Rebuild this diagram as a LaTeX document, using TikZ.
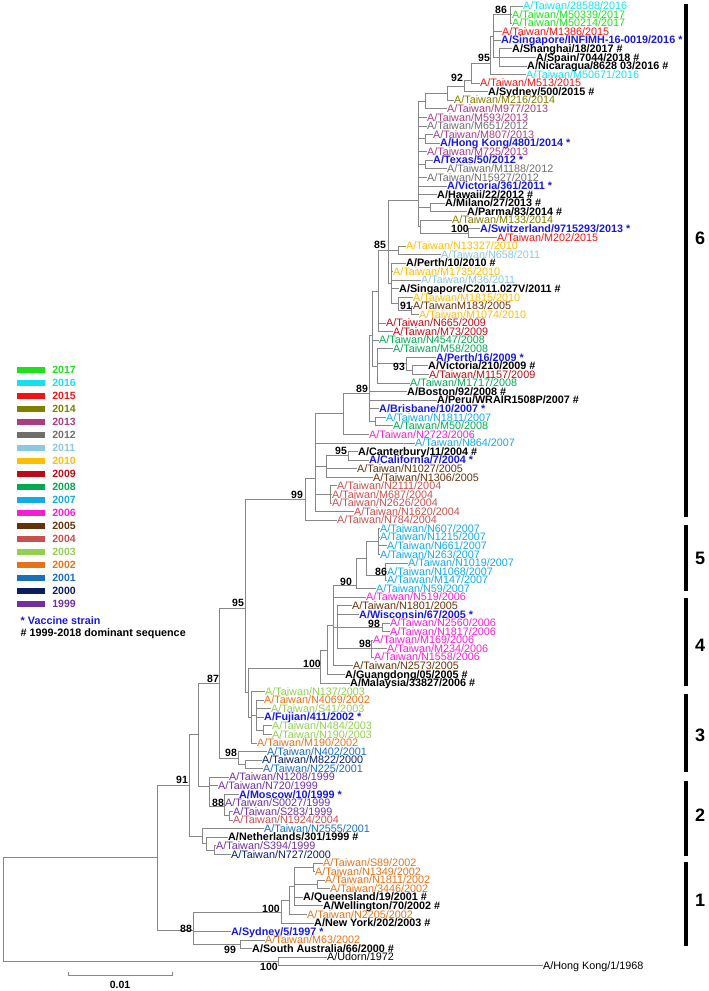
\documentclass[tikz,border=0pt]{standalone}
\usepackage{fontspec}
\setmainfont{Liberation Sans}
\usetikzlibrary{positioning}

\definecolor{c2017}{RGB}{30,225,30}
\definecolor{c2016}{RGB}{20,225,240}
\definecolor{c2015}{RGB}{240,20,20}
\definecolor{c2014}{RGB}{128,128,0}
\definecolor{c2013}{RGB}{170,60,130}
\definecolor{c2012}{RGB}{110,110,110}
\definecolor{c2011}{RGB}{140,200,225}
\definecolor{c2010}{RGB}{255,190,0}
\definecolor{c2009}{RGB}{190,10,20}
\definecolor{c2008}{RGB}{0,170,80}
\definecolor{c2007}{RGB}{20,170,230}
\definecolor{c2006}{RGB}{245,30,210}
\definecolor{c2005}{RGB}{100,50,10}
\definecolor{c2004}{RGB}{200,80,80}
\definecolor{c2003}{RGB}{146,208,80}
\definecolor{c2002}{RGB}{230,115,25}
\definecolor{c2001}{RGB}{25,110,190}
\definecolor{c2000}{RGB}{10,30,95}
\definecolor{c1999}{RGB}{112,48,160}
\definecolor{cvac}{RGB}{25,25,220}
\definecolor{branchgray}{RGB}{135,135,135}

\begin{document}
\begin{tikzpicture}[
    x=1pt, y=-1pt,
    br/.style={draw=branchgray, line width=0.9pt},
    lf/.style={anchor=west, inner xsep=0.5pt, inner ysep=0pt, text height=7.2pt, text depth=0pt, font=\fontsize{10.8}{12}\selectfont},
    vac/.style={lf, text=cvac, font=\fontsize{10.8}{12}\selectfont\bfseries},
    dom/.style={lf, font=\fontsize{10.8}{12}\selectfont\bfseries},
    bs/.style={inner sep=0pt, text height=7pt, text depth=0pt, font=\fontsize{10.5}{11}\selectfont\bfseries},
    clade/.style={inner sep=0pt, font=\fontsize{18}{20}\selectfont\bfseries},
    cbar/.style={line width=4pt},
    swatch/.style={minimum width=28pt, minimum height=6pt, inner sep=0pt},
    yr/.style={inner sep=0.5pt, font=\fontsize{10.5}{11}\selectfont\bfseries},
    note/.style={anchor=west, inner sep=0.5pt, font=\fontsize{10.8}{12}\selectfont\bfseries}
]
    \useasboundingbox (0,0) rectangle (709,991);

    % legend
    \node[swatch, fill=c2017] (sw2017) at (31,370) {};
    \node[swatch, fill=c2016] (sw2016) at (31,383) {};
    \node[swatch, fill=c2015] (sw2015) at (31,396) {};
    \node[swatch, fill=c2014] (sw2014) at (31,409) {};
    \node[swatch, fill=c2013] (sw2013) at (31,422) {};
    \node[swatch, fill=c2012] (sw2012) at (31,435) {};
    \node[swatch, fill=c2011] (sw2011) at (31,448) {};
    \node[swatch, fill=c2010] (sw2010) at (31,461) {};
    \node[swatch, fill=c2009] (sw2009) at (31,474) {};
    \node[swatch, fill=c2008] (sw2008) at (31,487) {};
    \node[swatch, fill=c2007] (sw2007) at (31,500) {};
    \node[swatch, fill=c2006] (sw2006) at (31,513) {};
    \node[swatch, fill=c2005] (sw2005) at (31,526) {};
    \node[swatch, fill=c2004] (sw2004) at (31,539) {};
    \node[swatch, fill=c2003] (sw2003) at (31,552) {};
    \node[swatch, fill=c2002] (sw2002) at (31,565) {};
    \node[swatch, fill=c2001] (sw2001) at (31,578) {};
    \node[swatch, fill=c2000] (sw2000) at (31,591) {};
    \node[swatch, fill=c1999] (sw1999) at (31,604) {};
    \node[yr, text=c2017, right=6.5pt of sw2017] (k2017) {2017};
    \node[yr, text=c2016, right=6.5pt of sw2016] (k2016) {2016};
    \node[yr, text=c2015, right=6.5pt of sw2015] (k2015) {2015};
    \node[yr, text=c2014, right=6.5pt of sw2014] (k2014) {2014};
    \node[yr, text=c2013, right=6.5pt of sw2013] (k2013) {2013};
    \node[yr, text=c2012, right=6.5pt of sw2012] (k2012) {2012};
    \node[yr, text=c2011, right=6.5pt of sw2011] (k2011) {2011};
    \node[yr, text=c2010, right=6.5pt of sw2010] (k2010) {2010};
    \node[yr, text=c2009, right=6.5pt of sw2009] (k2009) {2009};
    \node[yr, text=c2008, right=6.5pt of sw2008] (k2008) {2008};
    \node[yr, text=c2007, right=6.5pt of sw2007] (k2007) {2007};
    \node[yr, text=c2006, right=6.5pt of sw2006] (k2006) {2006};
    \node[yr, text=c2005, right=6.5pt of sw2005] (k2005) {2005};
    \node[yr, text=c2004, right=6.5pt of sw2004] (k2004) {2004};
    \node[yr, text=c2003, right=6.5pt of sw2003] (k2003) {2003};
    \node[yr, text=c2002, right=6.5pt of sw2002] (k2002) {2002};
    \node[yr, text=c2001, right=6.5pt of sw2001] (k2001) {2001};
    \node[yr, text=c2000, right=6.5pt of sw2000] (k2000) {2000};
    \node[yr, text=c1999, right=6.5pt of sw1999] (k1999) {1999};
    \node[note, text=cvac] (vacnote) at (20,621) {* Vaccine strain};
    \node[note] (domnote) at (20,634) {\# 1999-2018 dominant sequence};

    % strains, clade 6
    \node[lf, text=c2016] (tw28588) at (522.5,6.0) {A/Taiwan/28588/2016};
    \node[lf, text=c2017] (m50339) at (511.5,14.6) {A/Taiwan/M50339/2017};
    \node[lf, text=c2017] (m50214) at (511.5,23.1) {A/Taiwan/M50214/2017};
    \node[lf, text=c2015] (m1386) at (501.5,31.7) {A/Taiwan/M1386/2015};
    \node[vac] (singapore) at (500.5,40.3) {A/Singapore/INFIMH-16-0019/2016 *};
    \node[dom] (shanghai) at (511.5,48.9) {A/Shanghai/18/2017 \#};
    \node[dom] (spain) at (535.5,57.4) {A/Spain/7044/2018 \#};
    \node[dom] (nicaragua) at (526.5,66.0) {A/Nicaragua/8628 03/2016 \#};
    \node[lf, text=c2016] (m50671) at (525.5,74.6) {A/Taiwan/M50671/2016};
    \node[lf, text=c2015] (m513) at (479.5,83.1) {A/Taiwan/M513/2015};
    \node[dom] (sydney500) at (487.5,91.7) {A/Sydney/500/2015 \#};
    \node[lf, text=c2014] (m216) at (453.5,100.3) {A/Taiwan/M216/2014};
    \node[lf, text=c2013] (m977) at (446.5,108.8) {A/Taiwan/M977/2013};
    \node[lf, text=c2013] (m593) at (426.5,117.4) {A/Taiwan/M593/2013};
    \node[lf, text=c2012] (m651) at (426.5,126.0) {A/Taiwan/M651/2012};
    \node[lf, text=c2013] (m807) at (432.5,134.6) {A/Taiwan/M807/2013};
    \node[vac] (hongkong4801) at (439.5,143.1) {A/Hong Kong/4801/2014 *};
    \node[lf, text=c2013] (m725) at (426.5,151.7) {A/Taiwan/M725/2013};
    \node[vac] (texas) at (432.5,160.3) {A/Texas/50/2012 *};
    \node[lf, text=c2012] (m1188) at (446.5,168.8) {A/Taiwan/M1188/2012};
    \node[lf, text=c2012] (n15927) at (426.5,177.4) {A/Taiwan/N15927/2012};
    \node[vac] (victoria361) at (446.5,186.0) {A/Victoria/361/2011 *};
    \node[dom] (hawaii) at (436.5,194.5) {A/Hawaii/22/2012 \#};
    \node[dom] (milano) at (444.5,203.1) {A/Milano/27/2013 \#};
    \node[dom] (parma) at (466.5,211.7) {A/Parma/83/2014 \#};
    \node[lf, text=c2014] (m133) at (451.5,220.3) {A/Taiwan/M133/2014};
    \node[vac] (switzerland) at (479.5,228.8) {A/Switzerland/9715293/2013 *};
    \node[lf, text=c2015] (m202) at (496.5,237.4) {A/Taiwan/M202/2015};
    \node[lf, text=c2010] (n13327) at (405.5,246.0) {A/Taiwan/N13327/2010};
    \node[lf, text=c2011] (n658) at (440.5,254.5) {A/Taiwan/N658/2011};
    \node[dom] (perth10) at (405.5,263.1) {A/Perth/10/2010 \#};
    \node[lf, text=c2010] (m1735) at (392.5,271.7) {A/Taiwan/M1735/2010};
    \node[lf, text=c2011] (m36) at (420.5,280.2) {A/Taiwan/M36/2011};
    \node[dom] (singaporeC) at (398.5,288.8) {A/Singapore/C2011.027V/2011 \#};
    \node[lf, text=c2010] (m1815) at (412.5,297.4) {A/Taiwan/M1815/2010};
    \node[lf, text=c2005] (m183) at (412.5,306.0) {A/TaiwanM183/2005};
    \node[lf, text=c2010] (m1074) at (418.5,314.5) {A/Taiwan/M1074/2010};
    \node[lf, text=c2009] (n665) at (385.5,323.1) {A/Taiwan/N665/2009};
    \node[lf, text=c2009] (m73) at (392.5,331.7) {A/Taiwan/M73/2009};
    \node[lf, text=c2008] (n4547) at (378.5,340.2) {A/Taiwan/N4547/2008};
    \node[lf, text=c2008] (m58) at (392.5,348.8) {A/Taiwan/M58/2008};
    \node[vac] (perth16) at (435.5,357.4) {A/Perth/16/2009 *};
    \node[dom] (victoria210) at (427.5,365.9) {A/Victoria/210/2009 \#};
    \node[lf, text=c2009] (m1157) at (428.5,374.5) {A/Taiwan/M1157/2009};
    \node[lf, text=c2008] (m1717) at (409.5,383.1) {A/Taiwan/M1717/2008};
    \node[dom] (boston) at (406.5,391.7) {A/Boston/92/2008 \#};
    \node[dom] (peru) at (436.5,400.2) {A/Peru/WRAIR1508P/2007 \#};
    \node[vac] (brisbane) at (378.5,408.8) {A/Brisbane/10/2007 *};
    \node[lf, text=c2007] (n1811a) at (385.5,417.4) {A/Taiwan/N1811/2007};
    \node[lf, text=c2008] (m50) at (392.5,425.9) {A/Taiwan/M50/2008};
    \node[lf, text=c2006] (n2723) at (368.5,434.5) {A/Taiwan/N2723/2006};
    \node[lf, text=c2007] (n864) at (414.5,443.1) {A/Taiwan/N864/2007};
    \node[dom] (canterbury) at (357.5,451.6) {A/Canterbury/11/2004 \#};
    \node[vac] (california) at (368.5,460.2) {A/California/7/2004 *};
    \node[lf, text=c2005] (n1027) at (356.5,468.8) {A/Taiwan/N1027/2005};
    \node[lf, text=c2005] (n1306) at (372.5,477.4) {A/Taiwan/N1306/2005};
    \node[lf, text=c2004] (n2111) at (336.5,485.9) {A/Taiwan/N2111/2004};
    \node[lf, text=c2004] (m687) at (331.5,494.5) {A/Taiwan/M687/2004};
    \node[lf, text=c2004] (n2626) at (331.5,503.1) {A/Taiwan/N2626/2004};
    \node[lf, text=c2004] (n1620) at (353.5,511.6) {A/Taiwan/N1620/2004};
    \node[lf, text=c2004] (n784) at (336.5,520.2) {A/Taiwan/N784/2004};
    % clade 5
    \node[lf, text=c2007] (n607) at (379.5,528.8) {A/Taiwan/N607/2007};
    \node[lf, text=c2007] (n1215) at (379.5,537.3) {A/Taiwan/N1215/2007};
    \node[lf, text=c2007] (n661) at (386.5,545.9) {A/Taiwan/N661/2007};
    \node[lf, text=c2007] (n263) at (379.5,554.5) {A/Taiwan/N263/2007};
    \node[lf, text=c2007] (n1019) at (407.5,563.1) {A/Taiwan/N1019/2007};
    \node[lf, text=c2007] (n1068) at (386.5,571.6) {A/Taiwan/N1068/2007};
    \node[lf, text=c2007] (m147) at (386.5,580.2) {A/Taiwan/M147/2007};
    \node[lf, text=c2007] (n59) at (375.5,588.8) {A/Taiwan/N59/2007};
    % clade 4
    \node[lf, text=c2006] (n519) at (365.5,597.3) {A/Taiwan/N519/2006};
    \node[lf, text=c2005] (n1801) at (351.5,605.9) {A/Taiwan/N1801/2005};
    \node[vac] (wisconsin) at (358.5,614.5) {A/Wisconsin/67/2005 *};
    \node[lf, text=c2006] (n2560) at (389.5,623.1) {A/Taiwan/N2560/2006};
    \node[lf, text=c2006] (n1817) at (389.5,631.6) {A/Taiwan/N1817/2006};
    \node[lf, text=c2006] (m169) at (372.5,640.2) {A/Taiwan/M169/2006};
    \node[lf, text=c2006] (m234) at (386.5,648.8) {A/Taiwan/M234/2006};
    \node[lf, text=c2006] (n1558) at (373.5,657.3) {A/Taiwan/N1558/2006};
    \node[lf, text=c2005] (n2573) at (352.5,665.9) {A/Taiwan/N2573/2005};
    \node[dom] (guangdong) at (344.5,674.5) {A/Guangdong/05/2005 \#};
    \node[dom] (malaysia) at (349.5,683.0) {A/Malaysia/33827/2006 \#};
    % clade 3
    \node[lf, text=c2003] (n137) at (264.5,691.6) {A/Taiwan/N137/2003};
    \node[lf, text=c2002] (n4069) at (263.5,700.2) {A/Taiwan/N4069/2002};
    \node[lf, text=c2003] (s41) at (270.5,708.8) {A/Taiwan/S41/2003};
    \node[vac] (fujian) at (263.5,717.3) {A/Fujian/411/2002 *};
    \node[lf, text=c2003] (n484) at (271.5,725.9) {A/Taiwan/N484/2003};
    \node[lf, text=c2003] (n190) at (271.5,734.5) {A/Taiwan/N190/2003};
    \node[lf, text=c2002] (m190) at (256.5,743.0) {A/Taiwan/M190/2002};
    \node[lf, text=c2001] (n402) at (266.5,751.6) {A/Taiwan/N402/2001};
    \node[lf, text=c2000] (m822) at (261.5,760.2) {A/Taiwan/M822/2000};
    \node[lf, text=c2001] (n225) at (262.5,768.7) {A/Taiwan/N225/2001};
    % clade 2
    \node[lf, text=c1999] (n1208) at (228.5,777.3) {A/Taiwan/N1208/1999};
    \node[lf, text=c1999] (n720) at (217.5,785.9) {A/Taiwan/N720/1999};
    \node[vac] (moscow) at (238.5,794.5) {A/Moscow/10/1999 *};
    \node[lf, text=c1999] (s0027) at (224.5,803.0) {A/Taiwan/S0027/1999};
    \node[lf, text=c1999] (s283) at (232.5,811.6) {A/Taiwan/S283/1999};
    \node[lf, text=c2004] (n1924) at (232.5,820.2) {A/Taiwan/N1924/2004};
    \node[lf, text=c2001] (n2555) at (263.5,828.7) {A/Taiwan/N2555/2001};
    \node[dom] (netherlands) at (227.5,837.3) {A/Netherlands/301/1999 \#};
    \node[lf, text=c1999] (s394) at (215.5,845.9) {A/Taiwan/S394/1999};
    \node[lf, text=c2000] (n727) at (230.5,854.4) {A/Taiwan/N727/2000};
    % clade 1
    \node[lf, text=c2002] (s89) at (322.5,863.0) {A/Taiwan/S89/2002};
    \node[lf, text=c2002] (n1349) at (314.5,871.6) {A/Taiwan/N1349/2002};
    \node[lf, text=c2002] (n1811b) at (324.5,880.1) {A/Taiwan/N1811/2002};
    \node[lf, text=c2002] (tw3446) at (329.5,888.7) {A/Taiwan/3446/2002};
    \node[dom] (queensland) at (302.5,897.3) {A/Queensland/19/2001 \#};
    \node[dom] (wellington) at (322.5,905.9) {A/Wellington/70/2002 \#};
    \node[lf, text=c2002] (n2205) at (306.5,914.4) {A/Taiwan/N2205/2002};
    \node[dom] (newyork) at (313.5,923.0) {A/New York/202/2003 \#};
    \node[vac] (sydney5) at (230.5,931.6) {A/Sydney/5/1997 *};
    \node[lf, text=c2002] (m63) at (264.5,940.1) {A/Taiwan/M63/2002};
    \node[dom] (southaus) at (251.5,948.7) {A/South Australia/66/2000 \#};
    % outgroup
    \node[lf] (udorn) at (326.5,957.3) {A/Udorn/1972};
    \node[lf] (hongkong1) at (542.5,965.8) {A/Hong Kong/1/1968};

    % junctions
    \coordinate (j86) at (510,14.6);
    \coordinate (jSh) at (499,57.4);
    \coordinate (jSg) at (493,36);
    \coordinate (j95a) at (490,63);
    \coordinate (j92) at (471,80);
    \coordinate (jS5) at (464,86);
    \coordinate (jM216) at (447,93);
    \coordinate (j425) at (425,101);
    \coordinate (jM807) at (425,138.9);
    \coordinate (jTex) at (425,164.5);
    \coordinate (jMil) at (430,207.4);
    \coordinate (j100a) at (468,233.1);
    \coordinate (jM133) at (420,226.7);
    \coordinate (jG) at (418,200);
    \coordinate (jN13) at (398,250.3);
    \coordinate (j91a) at (411,310.3);
    \coordinate (j398) at (398,303.8);
    \coordinate (j391) at (391,283.4);
    \coordinate (j85) at (388,250);
    \coordinate (j378a) at (378,291);
    \coordinate (j93) at (412,370.2);
    \coordinate (j406) at (406,363.8);
    \coordinate (j377) at (377,366);
    \coordinate (jU) at (372,335);
    \coordinate (jN1811) at (375,421.7);
    \coordinate (j89) at (369,393);
    \coordinate (j343) at (343,413);
    \coordinate (j95c) at (348,455.9);
    \coordinate (j2005) at (326,466.7);
    \coordinate (j330) at (330,494.5);
    \coordinate (j315) at (315,478);
    \coordinate (j99a) at (305,499);
    \coordinate (j378b) at (378,541.7);
    \coordinate (j86b) at (385,575);
    \coordinate (j365) at (366,558);
    \coordinate (j90) at (356,585);
    \coordinate (j98a) at (382,627.4);
    \coordinate (j98b) at (371,648.8);
    \coordinate (j337) at (337,627.4);
    \coordinate (j333) at (333,625.5);
    \coordinate (j327) at (327,650);
    \coordinate (j100b) at (320,668);
    \coordinate (jN484) at (263,730.2);
    \coordinate (jFuj) at (256,715);
    \coordinate (j247) at (251,717);
    \coordinate (jX) at (248,692);
    \coordinate (j95b) at (245,608);
    \coordinate (jM822) at (245,764.5);
    \coordinate (j98c) at (238,758);
    \coordinate (j87) at (219,683);
    \coordinate (jS283) at (229,815.9);
    \coordinate (j88a) at (224,806);
    \coordinate (j209) at (209,786);
    \coordinate (j198) at (198,734.5);
    \coordinate (jS394) at (214,850.2);
    \coordinate (jNeth) at (206,843.7);
    \coordinate (jN2555) at (202,836.2);
    \coordinate (j91b) at (189,785.4);
    \coordinate (jS89) at (313,867.3);
    \coordinate (jN1811b) at (317,884.4);
    \coordinate (jQ) at (294,886.6);
    \coordinate (jUp1) at (289,900.5);
    \coordinate (j100c) at (281,912);
    \coordinate (j99b) at (240,944.4);
    \coordinate (j88b) at (193,930);
    \coordinate (jIn) at (157,857.7);
    \coordinate (j100d) at (278,961.5);
    \coordinate (jRoot) at (3,910);

    % branches
    \draw[br] (j86) |- (tw28588.west) (j86) |- (m50339.west) (j86) |- (m50214.west);
    \draw[br] (jSh) |- (shanghai.west) (jSh) |- (spain.west) (jSh) |- (nicaragua.west);
    \draw[br] (jSg) |- (j86) (jSg) |- (m1386.west) (jSg) |- (singapore.west) (jSg) |- (jSh);
    \draw[br] (j95a) |- (jSg) (j95a) |- (m50671.west);
    \draw[br] (j92) |- (j95a) (j92) |- (m513.west);
    \draw[br] (jS5) |- (j92) (jS5) |- (sydney500.west);
    \draw[br] (jM216) |- (jS5) (jM216) |- (m216.west);
    \draw[br] (j425) |- (jM216) (j425) |- (m977.west);
    \draw[br] (jM807) |- (m807.west) (jM807) |- (hongkong4801.west);
    \draw[br] (jTex) |- (texas.west) (jTex) |- (m1188.west);
    \draw[br] (jMil) |- (milano.west) (jMil) |- (parma.west);
    \draw[br] (j100a) |- (switzerland.west) (j100a) |- (m202.west);
    \draw[br] (jM133) |- (m133.west) (jM133) |- (j100a);
    \draw[br] (jG) |- (j425) (jG) |- (m593.west) (jG) |- (m651.west) (jG) |- (jM807)
        (jG) |- (m725.west) (jG) |- (jTex) (jG) |- (n15927.west) (jG) |- (victoria361.west)
        (jG) |- (hawaii.west) (jG) |- (jMil) (jG) |- (jM133);
    \draw[br] (jN13) |- (n13327.west) (jN13) |- (n658.west);
    \draw[br] (j91a) |- (m183.west) (j91a) |- (m1074.west);
    \draw[br] (j398) |- (m1815.west) (j398) |- (j91a);
    \draw[br] (j391) |- (perth10.west) (j391) |- (m1735.west) (j391) |- (m36.west)
        (j391) |- (singaporeC.west) (j391) |- (j398);
    \draw[br] (j85) |- (jG) (j85) |- (jN13) (j85) |- (j391);
    \draw[br] (j378a) |- (j85) (j378a) |- (n665.west) (j378a) |- (m73.west);
    \draw[br] (j93) |- (victoria210.west) (j93) |- (m1157.west);
    \draw[br] (j406) |- (perth16.west) (j406) |- (j93);
    \draw[br] (j377) |- (m58.west) (j377) |- (j406) (j377) |- (m1717.west);
    \draw[br] (jU) |- (j378a) (jU) |- (n4547.west) (jU) |- (j377);
    \draw[br] (jN1811) |- (n1811a.west) (jN1811) |- (m50.west);
    \draw[br] (j89) |- (jU) (j89) |- (boston.west) (j89) |- (peru.west) (j89) |- (brisbane.west) (j89) |- (jN1811);
    \draw[br] (j343) |- (j89) (j343) |- (n2723.west);
    \draw[br] (j95c) |- (canterbury.west) (j95c) |- (california.west);
    \draw[br] (j2005) |- (j95c) (j2005) |- (n1027.west) (j2005) |- (n1306.west);
    \draw[br] (j330) |- (n2111.west) (j330) |- (m687.west) (j330) |- (n2626.west);
    \draw[br] (j315) |- (j343) (j315) |- (n864.west) (j315) |- (j2005) (j315) |- (j330) (j315) |- (n1620.west);
    \draw[br] (j99a) |- (j315) (j99a) |- (n784.west);
    \draw[br] (j378b) |- (n607.west) (j378b) |- (n1215.west) (j378b) |- (n661.west) (j378b) |- (n263.west);
    \draw[br] (j86b) |- (n1019.west) (j86b) |- (n1068.west) (j86b) |- (m147.west);
    \draw[br] (j365) |- (j378b) (j365) |- (j86b);
    \draw[br] (j90) |- (j365) (j90) |- (n59.west);
    \draw[br] (j98a) |- (n2560.west) (j98a) |- (n1817.west);
    \draw[br] (j98b) |- (m169.west) (j98b) |- (m234.west) (j98b) |- (n1558.west);
    \draw[br] (j337) |- (n1801.west) (j337) |- (wisconsin.west) (j337) |- (j98a) (j337) |- (j98b);
    \draw[br] (j333) |- (j90) (j333) |- (n519.west) (j333) |- (j337) (j333) |- (n2573.west);
    \draw[br] (j327) |- (j333) (j327) |- (guangdong.west);
    \draw[br] (j100b) |- (j327) (j100b) |- (malaysia.west);
    \draw[br] (jN484) |- (n484.west) (jN484) |- (n190.west);
    \draw[br] (jFuj) |- (n4069.west) (jFuj) |- (s41.west) (jFuj) |- (fujian.west) (jFuj) |- (jN484);
    \draw[br] (j247) |- (n137.west) (j247) |- (jFuj) (j247) |- (m190.west);
    \draw[br] (jX) |- (j100b) (jX) |- (j247);
    \draw[br] (j95b) |- (j99a) (j95b) |- (jX);
    \draw[br] (jM822) |- (m822.west) (jM822) |- (n225.west);
    \draw[br] (j98c) |- (n402.west) (j98c) |- (jM822);
    \draw[br] (j87) |- (j95b) (j87) |- (j98c);
    \draw[br] (jS283) |- (s283.west) (jS283) |- (n1924.west);
    \draw[br] (j88a) |- (moscow.west) (j88a) |- (s0027.west) (j88a) |- (jS283);
    \draw[br] (j209) |- (n1208.west) (j209) |- (n720.west) (j209) |- (j88a);
    \draw[br] (j198) |- (j87) (j198) |- (j209);
    \draw[br] (jS394) |- (s394.west) (jS394) |- (n727.west);
    \draw[br] (jNeth) |- (netherlands.west) (jNeth) |- (jS394);
    \draw[br] (jN2555) |- (n2555.west) (jN2555) |- (jNeth);
    \draw[br] (j91b) |- (j198) (j91b) |- (jN2555);
    \draw[br] (jS89) |- (s89.west) (jS89) |- (n1349.west);
    \draw[br] (jN1811b) |- (n1811b.west) (jN1811b) |- (tw3446.west);
    \draw[br] (jQ) |- (jS89) (jQ) |- (jN1811b) (jQ) |- (queensland.west) (jQ) |- (wellington.west);
    \draw[br] (jUp1) |- (jQ) (jUp1) |- (n2205.west);
    \draw[br] (j100c) |- (jUp1) (j100c) |- (newyork.west);
    \draw[br] (j99b) |- (m63.west) (j99b) |- (southaus.west);
    \draw[br] (j88b) |- (j100c) (j88b) |- (sydney5.west) (j88b) |- (j99b);
    \draw[br] (jIn) |- (j91b) (jIn) |- (j88b);
    \draw[br] (j100d) |- (udorn.west) (j100d) |- (hongkong1.west);
    \draw[br] (jRoot) |- (jIn) (jRoot) |- (j100d);

    % bootstrap values
    \node[bs] (b86a) at (501,10) {86};
    \node[bs] (b95a) at (484,58) {95};
    \node[bs] (b92) at (457,78) {92};
    \node[bs] (b100a) at (460,229) {100};
    \node[bs] (b85) at (380,245) {85};
    \node[bs] (b91a) at (406,306) {91};
    \node[bs] (b93) at (399,367) {93};
    \node[bs] (b89) at (362,389) {89};
    \node[bs] (b95c) at (341,451) {95};
    \node[bs] (b99a) at (297,495) {99};
    \node[bs] (b86b) at (381,572) {86};
    \node[bs] (b90) at (346,582) {90};
    \node[bs] (b98a) at (374,624) {98};
    \node[bs] (b98b) at (365,644) {98};
    \node[bs] (b100b) at (312,664) {100};
    \node[bs] (b95b) at (238,603) {95};
    \node[bs] (b87) at (213,679) {87};
    \node[bs] (b98c) at (231,753) {98};
    \node[bs] (b91b) at (182,780) {91};
    \node[bs] (b88a) at (218,803) {88};
    \node[bs] (b100c) at (271,909) {100};
    \node[bs] (b88b) at (186,929) {88};
    \node[bs] (b99b) at (230,950) {99};
    \node[bs] (b100d) at (269,967) {100};

    % clades
    \draw[cbar] (686,4) -- (686,517);
    \draw[cbar] (686,525) -- (686,591);
    \draw[cbar] (686,598) -- (686,686);
    \draw[cbar] (686,694) -- (686,772);
    \draw[cbar] (686,781) -- (686,856);
    \draw[cbar] (686,862) -- (686,946);
    \node[clade] (cl6) at (700,238) {6};
    \node[clade] (cl5) at (700,558) {5};
    \node[clade] (cl4) at (700,645) {4};
    \node[clade] (cl3) at (700,735) {3};
    \node[clade] (cl2) at (700,815) {2};
    \node[clade] (cl1) at (700,900) {1};

    % scale bar
    \draw[br] (68,972) -- (68,975) -- (172,975) -- (172,972);
    \node[bs] (scale) at (120,985) {0.01};
\end{tikzpicture}
\end{document}
